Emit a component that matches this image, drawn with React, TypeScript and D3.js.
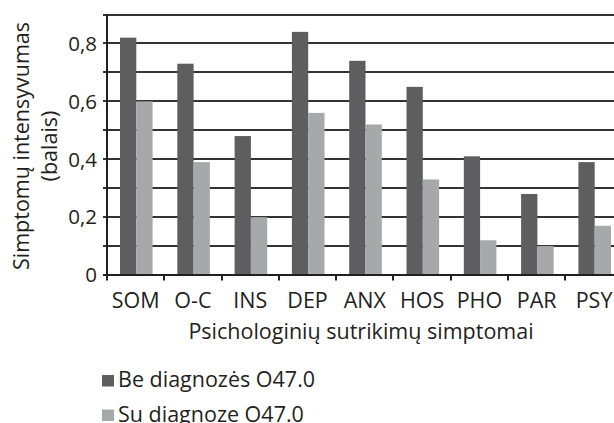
import * as d3 from "d3";

const categories = ["SOM", "O-C", "INS", "DEP", "ANX", "HOS", "PHO", "PAR", "PSY"];
const seriesNames = ["Be diagnozės O47.0", "Su diagnoze O47.0"];
const withoutDiagnosis = [0.82, 0.73, 0.48, 0.84, 0.74, 0.65, 0.41, 0.28, 0.39];
const withDiagnosis = [0.6, 0.39, 0.2, 0.56, 0.52, 0.33, 0.12, 0.1, 0.17];
const gridValues = [0, 0.1, 0.2, 0.3, 0.4, 0.5, 0.6, 0.7, 0.8, 0.9];
const yTickValues = [0, 0.2, 0.4, 0.6, 0.8];
const colors = ["#5e5e60", "#a7a8aa"];

const W = 614;
const H = 423;
const FONT = "'Open Sans', sans-serif";
const INK = "#231f20";

export default function App() {
  const left = 107;
  const step = 57.3;

  const x0 = d3
    .scaleBand<string>()
    .domain(categories)
    .range([left, left + step * categories.length])
    .padding(0);
  // two bars side by side inside each band
  const x1 = d3.scaleBand<number>().domain([0, 1]).range([13, 45.6]).padding(0);
  const y = d3.scaleLinear().domain([0, 0.9]).range([275, 14.5]);

  const rows = categories.map((c, i) => ({ c, v: [withoutDiagnosis[i], withDiagnosis[i]] }));
  const fmt = (d: number) => (d === 0 ? "0" : d3.format(".1f")(d).replace(".", ","));

  const textStyle = { fontFamily: FONT, fill: INK };

  return (
    <div style={{ position: "fixed", left: 0, top: 0, width: W, height: H, background: "#fff" }}>
      <svg width={W} height={H} style={{ display: "block" }}>
        {/* gridlines every 0.1 */}
        {gridValues.map((d) => (
          <rect
            key={d}
            x={left - 4}
            y={Math.round(y(d)) - 1}
            width={W - left + 4}
            height={2}
            fill="#333333"
          />
        ))}

        {/* bars */}
        <g>
          {rows.map((r) => (
            <g key={r.c} transform={`translate(${x0(r.c)},0)`}>
              {r.v.map((v, k) => (
                <rect
                  key={k}
                  x={x1(k)}
                  width={x1.bandwidth()}
                  y={y(v)}
                  height={y(0) - y(v)}
                  fill={colors[k]}
                />
              ))}
            </g>
          ))}
        </g>

        {/* axes */}
        <rect x={left - 1} y={Math.round(y(0.9)) - 1} width={2} height={y(0) - y(0.9) + 2} fill={INK} />
        <rect x={left - 4} y={Math.round(y(0)) - 1} width={W - left + 4} height={2} fill={INK} />
        {d3.range(0, categories.length + 1).map((i) => (
          <rect
            key={i}
            x={Math.round(left + i * x0.step()) - 1}
            y={Math.round(y(0))}
            width={2}
            height={5.5}
            fill={INK}
          />
        ))}

        {/* y tick labels */}
        <g>
          {yTickValues.map((d) => (
            <text
              key={d}
              x={97}
              y={y(d)}
              dy="0.36em"
              textAnchor="end"
              style={{ ...textStyle, fontSize: 20.5 }}
            >
              {fmt(d)}
            </text>
          ))}
        </g>

        {/* category labels */}
        <g>
          {categories.map((c) => (
            <text
              key={c}
              x={(x0(c) || 0) + x0.bandwidth() / 2}
              y={307.5}
              textAnchor="middle"
              style={{ ...textStyle, fontSize: 21.5 }}
            >
              {c}
            </text>
          ))}
        </g>

        {/* axis titles */}
        <text x={(left + W) / 2 + 0.5} y={338.5} textAnchor="middle" style={{ ...textStyle, fontSize: 21.5 }}>
          Psichologinių sutrikimų simptomai
        </text>
        <text transform="translate(28.5,146) rotate(-90)" textAnchor="middle" style={{ ...textStyle, fontSize: 21.5 }}>
          <tspan x={0} y={0}>Simptomų intensyvumas</tspan>
          <tspan x={0} y={28.5}>(balais)</tspan>
        </text>

        {/* legend */}
        {seriesNames.map((s, i) => (
          <g key={s} transform={`translate(102,${375 + i * 34.5})`}>
            <rect width={12} height={11.5} fill={colors[i]} />
            <text x={16} y={12.3} style={{ ...textStyle, fontSize: 21.5 }}>
              {s}
            </text>
          </g>
        ))}
      </svg>
    </div>
  );
}
